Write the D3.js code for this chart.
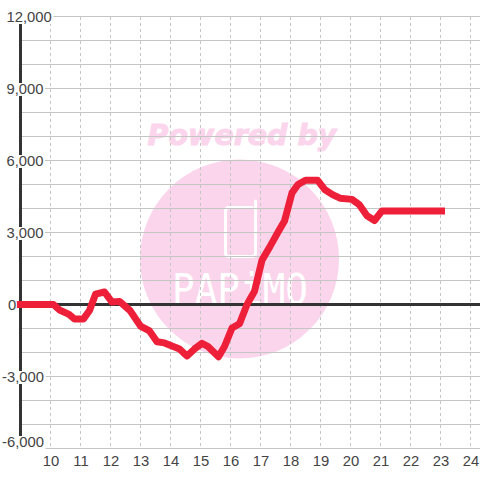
<!DOCTYPE html>
<html><head><meta charset="utf-8">
<script src="https://cdn.jsdelivr.net/npm/d3@7/dist/d3.min.js"></script>
<style>html,body{margin:0;padding:0;background:#fff}svg{display:block}</style>
</head><body><svg id="c" width="480" height="480"></svg>
<script>
const hours=[8.88,9.25,9.5,9.75,10,10.1,10.3,10.6,10.8,11.1,11.3,11.5,11.8,12.05,12.3,12.65,13,13.3,13.55,13.8,14.05,14.3,14.55,14.8,15.05,15.25,15.6,15.8,16.05,16.3,16.55,16.8,17.05,17.3,17.6,17.8,18.05,18.25,18.5,18.9,19.15,19.4,19.65,20.05,20.3,20.55,20.8,21.05,21.25,21.5,22,22.5,23,23.15];
const values=[0,0,0,0,0,0,-230,-400,-600,-600,-250,430,520,100,130,-250,-900,-1100,-1550,-1600,-1730,-1850,-2150,-1850,-1620,-1750,-2180,-1750,-980,-800,0,550,1850,2380,3050,3480,4650,5000,5180,5180,4780,4580,4430,4380,4150,3700,3500,3900,3900,3900,3900,3900,3900,3900];
const yTicks=[-6000,-5000,-4000,-3000,-2000,-1000,0,1000,2000,3000,4000,5000,6000,7000,8000,9000,10000,11000,12000];
const yLabels=[-6000,-3000,0,3000,6000,9000,12000];
const xTicks=[10,11,12,13,14,15,16,17,18,19,20,21,22,23,24];
const wm1="Powered by", wm2="PAPiMO";

const svg=d3.select("#c");
const x=d3.scaleLinear().domain([10,24]).range([50.5,470.5]);
const y=d3.scaleLinear().domain([-6000,12000]).range([448.5,16.5]);
const font="'Liberation Sans',Arial,sans-serif";
const pink="#fbd5ec";

// watermark
svg.append("circle").attr("cx",239.5).attr("cy",259).attr("r",99.5).attr("fill",pink);
svg.append("text").attr("x",242).attr("y",145).attr("text-anchor","middle")
  .attr("font-family","'DejaVu Sans',sans-serif").attr("font-weight","bold").attr("font-style","italic")
  .attr("font-size",28.5).attr("fill",pink).attr("stroke",pink).attr("stroke-width",1).text(wm1);
svg.append("path").attr("d","M252 207.5H229Q225.5 207.5 225.5 211V253Q225.5 256.5 229 256.5H252Q255.5 256.5 255.5 253V201")
  .attr("fill","none").attr("stroke","#fff").attr("stroke-width",3).attr("stroke-linecap","round");
svg.append("text").attr("x",240).attr("y",304).attr("text-anchor","middle")
  .attr("font-family","'DejaVu Sans Mono',monospace").attr("font-size",42).attr("fill","#fff")
  .attr("textLength",136).attr("lengthAdjust","spacingAndGlyphs").text(wm2);

// grid
svg.append("g").selectAll("line").data(yTicks).join("line")
  .attr("x1",22).attr("x2",480).attr("y1",d=>y(d)).attr("y2",d=>y(d))
  .attr("stroke","#c4c6c4").attr("stroke-width",1);
svg.append("g").selectAll("line").data(xTicks).join("line")
  .attr("x1",d=>x(d)).attr("x2",d=>x(d)).attr("y1",17).attr("y2",447)
  .attr("stroke","#c4c6c4").attr("stroke-width",1).attr("stroke-dasharray","3,3");

// axes
svg.append("line").attr("x1",20.5).attr("x2",20.5).attr("y1",16).attr("y2",448).attr("stroke","#333").attr("stroke-width",3);
svg.append("line").attr("x1",20).attr("x2",480).attr("y1",y(0)).attr("y2",y(0)).attr("stroke","#333").attr("stroke-width",3);

// y labels
const labelY=d=>d===-6000?441:Math.floor(y(d));
const fmt=d=>d3.format(",")(d).replace("−","-");
const gl=svg.append("g").selectAll("g").data(yLabels).join("g");
gl.append("text").attr("x",d=>d<0?2:(d===0?8:6.5)).attr("y",d=>labelY(d)+5.5).attr("text-anchor","start")
  .attr("font-family",font).attr("font-size",14.8).attr("fill","#444").text(fmt);
gl.each(function(d){const t=d3.select(this).select("text"),b=t.node().getBBox();
  d3.select(this).insert("rect","text").attr("x",b.x).attr("y",labelY(d)-5).attr("width",b.width+1.5).attr("height",13).attr("fill","#fff");});

// x labels
svg.append("g").selectAll("text").data(xTicks).join("text")
  .attr("x",d=>x(d)+0.5).attr("y",466).attr("text-anchor","middle")
  .attr("font-family",font).attr("font-size",14.8).attr("fill","#444").text(d=>d);

// series
const line=d3.line().x((d,i)=>x(hours[i])).y(d=>y(d));
svg.append("path").attr("d",line(values)).attr("fill","none").attr("stroke","#ee2039").attr("stroke-width",7).attr("stroke-linejoin","round");
</script></body></html>
